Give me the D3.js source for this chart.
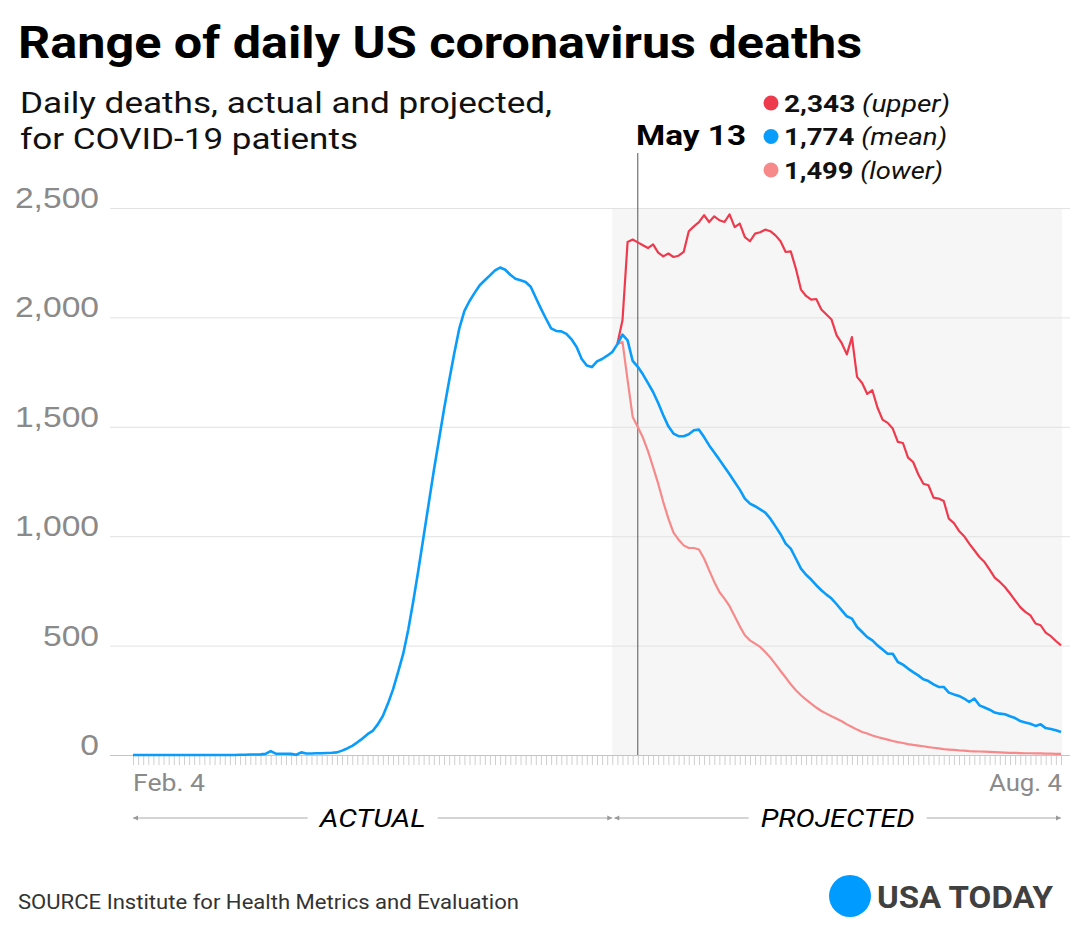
<!DOCTYPE html>
<html>
<head>
<meta charset="utf-8">
<script src="https://cdn.jsdelivr.net/npm/d3@7"></script>
<style>
  body { margin: 0; background: #fff; }
  svg { display: block; font-family: Roboto, "Open Sans", sans-serif; }
  .grid line { stroke: #e2e2e2; }
  .grid .domain { display: none; }
  .grid text { fill: #8a8a8a; font-size: 30px; font-weight: 300; }
  .days line { stroke: #cfcfcf; }
  .days .domain { display: none; }
</style>
</head>
<body>
<svg id="chart" width="1080" height="941"></svg>
<script>
// Chart data (daily deaths)
const startDate = new Date(2020, 1, 4);   // Feb. 4
const endDate = new Date(2020, 7, 4);     // Aug. 4
const projStart = new Date(2020, 4, 9);   // first projected day
const shadeStart = new Date(2020, 4, 8);
const markDate = new Date(2020, 4, 13);   // May 13

// Feb. 4 -> May 8
const actualDeaths = [
  0, 0, 0, 0, 0, 0, 0, 0, 0, 0,
  0, 0, 0, 0, 0, 0, 0, 0, 0, 0,
  0, 1, 1, 2, 2, 3, 5, 18, 6, 6,
  6, 5, 1, 12, 7, 7, 8, 8, 9, 10,
  12, 20, 30, 42, 58, 75, 95, 110, 140, 178,
  235, 300, 380, 463, 575, 707, 850, 1000, 1150, 1300,
  1440, 1580, 1710, 1835, 1950, 2030, 2075, 2112, 2147, 2170,
  2192, 2215, 2228, 2218, 2195, 2177, 2170, 2162, 2140, 2090,
  2040, 1994, 1950, 1938, 1936, 1925, 1900, 1865, 1810, 1780,
  1773, 1799, 1810, 1825, 1842
];

// May 9 -> Aug. 4
const upperDeaths = [
  1880, 1987, 2345, 2356, 2343, 2330, 2317, 2334, 2296, 2279,
  2292, 2276, 2282, 2299, 2394, 2416, 2435, 2467, 2436, 2462,
  2444, 2436, 2471, 2413, 2429, 2367, 2348, 2383, 2389, 2401,
  2394, 2375, 2348, 2299, 2302, 2223, 2127, 2098, 2081, 2084,
  2036, 2013, 1990, 1918, 1882, 1831, 1910, 1728, 1700, 1650,
  1667, 1588, 1533, 1518, 1492, 1431, 1426, 1359, 1339, 1283,
  1240, 1233, 1176, 1172, 1161, 1080, 1060, 1024, 1000, 966,
  936, 905, 882, 847, 811, 791, 768, 738, 707, 676,
  654, 638, 601, 593, 559, 543, 521, 501
];

const meanDeaths = [
  1878, 1921, 1895, 1801, 1774, 1740, 1700, 1659, 1609, 1553,
  1502, 1469, 1457, 1457, 1466, 1484, 1487, 1453, 1415, 1382,
  1350, 1316, 1283, 1248, 1213, 1172, 1149, 1137, 1123, 1108,
  1080, 1045, 1009, 966, 943, 898, 852, 824, 802, 776,
  753, 733, 715, 689, 661, 634, 623, 585, 562, 539,
  524, 501, 482, 463, 463, 425, 413, 395, 379, 364,
  346, 338, 323, 311, 311, 285, 277, 270, 258, 242,
  258, 227, 217, 207, 194, 189, 186, 177, 169, 155,
  149, 143, 133, 140, 123, 119, 113, 105
];

const lowerDeaths = [
  1878, 1888, 1713, 1545, 1499, 1451, 1389, 1316, 1240, 1156,
  1080, 1016, 984, 958, 946, 946, 939, 898, 844, 791,
  745, 715, 680, 634, 588, 547, 524, 509, 494, 471,
  445, 415, 384, 354, 323, 296, 273, 253, 235, 217,
  201, 189, 177, 166, 154, 140, 128, 116, 105, 98,
  89, 82, 76, 70, 64, 59, 55, 50, 46, 43,
  40, 36, 33, 30, 27, 25, 23, 21, 20, 18,
  17, 16, 15, 14, 13, 12, 11, 10, 10, 9,
  8, 8, 7, 7, 6, 6, 5, 5
];

const yTicks = [0, 500, 1000, 1500, 2000, 2500];
const xLabels = ["Feb. 4", "Aug. 4"];
const legendNames = ["upper", "mean", "lower"];
const legendValues = [2343, 1774, 1499];
const seriesColors = ["#ee3a4d", "#0a9cfb", "#f7898a"];

// Layout
const svg = d3.select("#chart");
const plot = { left: 133, right: 1061, top: 208, bottom: 755 };

const x = d3.scaleTime()
  .domain([startDate, endDate])
  .range([plot.left, plot.right]);
const y = d3.scaleLinear()
  .domain([0, 2500])
  .range([plot.bottom, plot.top]);

const toPoints = (vals, from) => vals.map((v, i) => ({ date: d3.timeDay.offset(from, i), value: v }));
const meanSeries = toPoints(actualDeaths.concat(meanDeaths), startDate);
const upperSeries = toPoints(upperDeaths, projStart);
const lowerSeries = toPoints(lowerDeaths, projStart);

// Squeeze/stretch a text to the width it has in the original graphic
function fitWidth(sel, w) {
  sel.attr("textLength", w).attr("lengthAdjust", "spacingAndGlyphs");
}

// Title + subtitle
svg.append("text")
  .attr("x", 18).attr("y", 58)
  .attr("font-size", 45).attr("font-weight", 700)
  .attr("fill", "#000")
  .text("Range of daily US coronavirus deaths")
  .call(fitWidth, 844);

svg.append("text")
  .attr("x", 20).attr("y", 113)
  .attr("font-size", 30).attr("fill", "#111")
  .text("Daily deaths, actual and projected,")
  .call(fitWidth, 532);
svg.append("text")
  .attr("x", 20).attr("y", 149)
  .attr("font-size", 30).attr("fill", "#111")
  .text("for COVID-19 patients")
  .call(fitWidth, 338);

// Projected area shading
svg.append("rect")
  .attr("x", x(shadeStart))
  .attr("y", plot.top)
  .attr("width", x(endDate) + 1 - x(shadeStart))
  .attr("height", plot.bottom - plot.top)
  .attr("fill", "#f6f6f6");

// Gridlines + y labels
const gridG = svg.append("g")
  .attr("class", "grid")
  .attr("transform", "translate(110,0)")
  .call(d3.axisLeft(y).tickValues(yTicks).tickSize(-960).tickPadding(11).tickFormat(d3.format(",")));
gridG.selectAll("text")
  .attr("dy", "-0.02em")
  .each(function () {
    d3.select(this).call(fitWidth, this.getComputedTextLength() * 1.12);
  });
gridG.selectAll(".tick")
  .filter(d => d === 0)
  .select("line").style("stroke", "#c4c4c4");

// Daily ticks under the baseline
svg.append("g")
  .attr("class", "days")
  .attr("transform", `translate(0,${plot.bottom + 1})`)
  .call(d3.axisBottom(x).ticks(d3.timeDay.every(1)).tickFormat("").tickSize(9).tickSizeOuter(0));

// May 13 marker
svg.append("line")
  .attr("x1", x(markDate)).attr("x2", x(markDate))
  .attr("y1", 153).attr("y2", plot.bottom)
  .attr("stroke", "#555").attr("stroke-width", 1);

svg.append("text")
  .attr("x", 746).attr("y", 145)
  .attr("text-anchor", "end")
  .attr("font-size", 28).attr("font-weight", 700)
  .text("May 13")
  .call(fitWidth, 110);

// Lines
const line = d3.line()
  .x(d => x(d.date))
  .y(d => y(d.value));

svg.append("path").datum(lowerSeries)
  .attr("d", line).attr("fill", "none")
  .attr("stroke", seriesColors[2]).attr("stroke-width", 2.2)
  .attr("stroke-linejoin", "round");
svg.append("path").datum(upperSeries)
  .attr("d", line).attr("fill", "none")
  .attr("stroke", seriesColors[0]).attr("stroke-width", 2.2)
  .attr("stroke-linejoin", "round");
svg.append("path").datum(meanSeries)
  .attr("d", line).attr("fill", "none")
  .attr("stroke", seriesColors[1]).attr("stroke-width", 2.6)
  .attr("stroke-linejoin", "round");

// Legend
const legendWidths = [166, 163, 159];
const legend = svg.append("g");
legendNames.forEach((name, i) => {
  const cy = 103 + i * 33.5;
  legend.append("circle")
    .attr("cx", 771).attr("cy", cy).attr("r", 7.5)
    .attr("fill", seriesColors[i]);
  const t = legend.append("text")
    .attr("x", 784).attr("y", cy + 8.5)
    .attr("font-size", 24);
  t.append("tspan").attr("font-weight", 700).attr("fill", "#111").text(d3.format(",")(legendValues[i]));
  t.append("tspan").attr("font-style", "italic").attr("fill", "#111").text(" (" + name + ")");
  t.call(fitWidth, legendWidths[i]);
});

// X labels
svg.append("text")
  .attr("x", plot.left).attr("y", 791)
  .attr("font-size", 24).attr("fill", "#8a8a8a")
  .text(xLabels[0])
  .call(fitWidth, 72);
svg.append("text")
  .attr("x", plot.right + 1).attr("y", 791)
  .attr("text-anchor", "end")
  .attr("font-size", 24).attr("fill", "#8a8a8a")
  .text(xLabels[1])
  .call(fitWidth, 73);

// ACTUAL / PROJECTED spans with arrows
function spanLabel(x0, x1, label, textW) {
  const yy = 818;
  const mid = (x0 + x1) / 2;
  const g = svg.append("g");
  g.append("line").attr("x1", x0).attr("x2", mid - textW / 2 - 12)
    .attr("y1", yy).attr("y2", yy).attr("stroke", "#aaa");
  g.append("line").attr("x1", mid + textW / 2 + 12).attr("x2", x1)
    .attr("y1", yy).attr("y2", yy).attr("stroke", "#aaa");
  g.append("path")
    .attr("d", `M${x0},${yy}l5,-2.5v5z M${x1},${yy}l-5,-2.5v5z`)
    .attr("fill", "#999");
  g.append("text")
    .attr("x", mid).attr("y", yy + 9)
    .attr("text-anchor", "middle")
    .attr("font-size", 26).attr("font-style", "italic")
    .attr("fill", "#000")
    .text(label)
    .call(fitWidth, textW);
}
spanLabel(x(startDate), x(shadeStart), "ACTUAL", 106);
spanLabel(x(shadeStart) + 2, x(endDate), "PROJECTED", 154);

// Footer
svg.append("text")
  .attr("x", 18).attr("y", 909)
  .attr("font-size", 20).attr("fill", "#333")
  .text("SOURCE Institute for Health Metrics and Evaluation")
  .call(fitWidth, 501);

svg.append("circle")
  .attr("cx", 850).attr("cy", 896).attr("r", 21)
  .attr("fill", "#009bff");
svg.append("text")
  .attr("x", 877).attr("y", 908)
  .attr("font-size", 32).attr("font-weight", 700)
  .attr("fill", "#404040")
  .text("USA TODAY")
  .call(fitWidth, 176);
</script>
</body>
</html>
